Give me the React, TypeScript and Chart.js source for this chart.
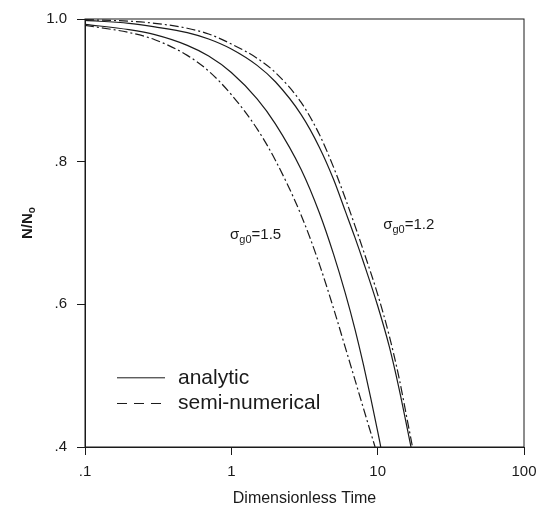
import React, { useEffect, useRef } from "react";
import { Chart, registerables } from "chart.js";

Chart.register(...registerables);

// Axis ticks
const X_TICKS = [0.1, 1, 10, 100];
const X_TICK_LABELS = [".1", "1", "10", "100"];
const Y_TICKS = [0.4, 0.6, 0.8, 1.0];
const Y_TICK_LABELS = [".4", ".6", ".8", "1.0"];

// sigma_g0 = 1.2, analytic
const T_A12 = [0.1, 0.2, 0.3, 0.5, 0.7, 1, 1.5, 2, 3, 4, 5, 6, 7, 8, 10, 12, 14, 16, 16.9];
const N_A12 = [0.998, 0.994, 0.989, 0.981, 0.972, 0.958, 0.935, 0.912, 0.866, 0.82, 0.775, 0.731, 0.6935, 0.659, 0.598, 0.541, 0.482, 0.424, 0.4];

// sigma_g0 = 1.2, semi-numerical
const T_S12 = [0.1, 0.2, 0.3, 0.5, 0.7, 1, 1.5, 2, 3, 4, 5, 6, 7, 8, 10, 12, 14, 16, 17.3];
const N_S12 = [0.999, 0.997, 0.994, 0.987, 0.979, 0.965, 0.945, 0.925, 0.883, 0.838, 0.792, 0.749, 0.71, 0.675, 0.614, 0.556, 0.497, 0.436, 0.4];

// sigma_g0 = 1.5, analytic
const T_A15 = [0.1, 0.2, 0.3, 0.5, 0.7, 1, 1.5, 2, 3, 4, 5, 6, 7, 8, 9, 10, 10.5];
const N_A15 = [0.9925, 0.985, 0.978, 0.963, 0.948, 0.925, 0.888, 0.853, 0.789, 0.728, 0.67, 0.616, 0.565, 0.515, 0.467, 0.422, 0.4];

// sigma_g0 = 1.5, semi-numerical
const T_S15 = [0.1, 0.2, 0.3, 0.5, 0.7, 1, 1.5, 2, 3, 4, 5, 6, 7, 8, 9, 9.6];
const N_S15 = [0.991, 0.981, 0.971, 0.949, 0.927, 0.894, 0.846, 0.802, 0.725, 0.656, 0.594, 0.54, 0.494, 0.454, 0.419, 0.4];

const LEGEND_LABELS = ["analytic", "semi-numerical"];
const X_TITLE = "Dimensionless Time";

const FONT = "'Liberation Sans', Arial, sans-serif";
const INK = "#1a1a1a";
const DASH_DOT = [9, 3, 2, 3];

function pts(t: number[], n: number[]) {
  return t.map((x, i) => ({ x, y: n[i] }));
}

function drawSigma(ctx: CanvasRenderingContext2D, x: number, y: number, value: string) {
  ctx.textBaseline = "middle";
  ctx.textAlign = "left";
  ctx.font = `15px ${FONT}`;
  ctx.fillText("σ", x, y);
  let cx = x + ctx.measureText("σ").width;
  ctx.font = `11px ${FONT}`;
  ctx.fillText("g0", cx, y + 5);
  cx += ctx.measureText("g0").width;
  ctx.font = `15px ${FONT}`;
  ctx.fillText("=" + value, cx, y);
}

const decorPlugin = {
  id: "decor",
  afterDraw(chart: any) {
    const { ctx, chartArea: ca, scales } = chart;
    const xs = scales.x;
    const ys = scales.y;
    ctx.save();
    // frame
    ctx.strokeStyle = INK;
    ctx.lineWidth = 1;
    ctx.strokeRect(ca.left, ca.top, ca.right - ca.left, ca.bottom - ca.top);

    ctx.fillStyle = INK;
    // sigma labels
    drawSigma(ctx, xs.getPixelForValue(0.98), ys.getPixelForValue(0.697), "1.5");
    drawSigma(ctx, xs.getPixelForValue(10.9), ys.getPixelForValue(0.711), "1.2");

    // legend
    const lx0 = ca.left + 32;
    const lx1 = ca.left + 80;
    const r1 = ys.getPixelForValue(0.497);
    const r2 = ys.getPixelForValue(0.461);
    ctx.lineWidth = 1;
    ctx.setLineDash([]);
    ctx.beginPath();
    ctx.moveTo(lx0, r1);
    ctx.lineTo(lx1, r1);
    ctx.stroke();
    ctx.setLineDash([10, 7]);
    ctx.beginPath();
    ctx.moveTo(lx0, r2);
    ctx.lineTo(lx1, r2);
    ctx.stroke();
    ctx.setLineDash([]);
    ctx.font = `21px ${FONT}`;
    ctx.textBaseline = "middle";
    ctx.textAlign = "left";
    ctx.fillText(LEGEND_LABELS[0], ca.left + 93, r1);
    ctx.fillText(LEGEND_LABELS[1], ca.left + 93, r2);

    // y title N/No
    ctx.save();
    ctx.translate(28, (ca.top + ca.bottom) / 2 - 10);
    ctx.rotate(-Math.PI / 2);
    ctx.font = `bold 15px ${FONT}`;
    const main = "N/N";
    const w1 = ctx.measureText(main).width;
    ctx.font = `bold 10px ${FONT}`;
    const w2 = ctx.measureText("o").width;
    const start = -(w1 + w2) / 2;
    ctx.textAlign = "left";
    ctx.textBaseline = "middle";
    ctx.font = `bold 15px ${FONT}`;
    ctx.fillText(main, start, 0);
    ctx.font = `bold 10px ${FONT}`;
    ctx.fillText("o", start + w1, 4);
    ctx.restore();

    ctx.restore();
  },
};

export default function App() {
  const ref = useRef<HTMLCanvasElement | null>(null);

  useEffect(() => {
    if (!ref.current) return;
    const mk = (label: string, data: any, dash: number[]) => ({
      label,
      data,
      borderColor: INK,
      borderWidth: 1.2,
      borderDash: dash,
      pointRadius: 0,
      fill: false,
      cubicInterpolationMode: "monotone" as const,
    });
    const chart = new Chart(ref.current, {
      type: "line",
      data: {
        datasets: [
          mk("analytic 1.2", pts(T_A12, N_A12), []),
          mk("semi-numerical 1.2", pts(T_S12, N_S12), DASH_DOT),
          mk("analytic 1.5", pts(T_A15, N_A15), []),
          mk("semi-numerical 1.5", pts(T_S15, N_S15), DASH_DOT),
        ],
      },
      options: {
        responsive: false,
        animation: false,
        layout: { padding: { top: 14.5, right: 25, left: 0, bottom: 0 } },
        plugins: {
          legend: { display: false },
          tooltip: { enabled: false },
        },
        scales: {
          x: {
            type: "logarithmic",
            min: 0.1,
            max: 100,
            afterBuildTicks: (s: any) => {
              s.ticks = X_TICKS.map((v) => ({ value: v }));
            },
            afterFit: (s: any) => {
              s.height = 68;
            },
            ticks: {
              autoSkip: false,
              maxRotation: 0,
              padding: 8,
              color: INK,
              font: { family: FONT, size: 15 },
              callback: (v: any) => {
                const i = X_TICKS.findIndex((t) => Math.abs(t - Number(v)) < 1e-9);
                return i >= 0 ? X_TICK_LABELS[i] : "";
              },
            },
            grid: {
              drawOnChartArea: false,
              drawTicks: true,
              tickLength: 8,
              color: INK,
            },
            border: { display: true, color: INK, width: 1 },
            title: {
              display: true,
              text: X_TITLE,
              color: INK,
              font: { family: FONT, size: 16 },
              padding: { top: 0, bottom: 7 },
            },
          },
          y: {
            type: "linear",
            min: 0.4,
            max: 1.0,
            afterBuildTicks: (s: any) => {
              s.ticks = Y_TICKS.map((v) => ({ value: v }));
            },
            afterFit: (s: any) => {
              s.width = 85;
            },
            ticks: {
              padding: 10,
              color: INK,
              font: { family: FONT, size: 15 },
              callback: (v: any) => {
                const i = Y_TICKS.findIndex((t) => Math.abs(t - Number(v)) < 1e-9);
                return i >= 0 ? Y_TICK_LABELS[i] : "";
              },
            },
            grid: {
              drawOnChartArea: false,
              drawTicks: true,
              tickLength: 8,
              color: INK,
            },
            border: { display: true, color: INK, width: 1 },
          },
        },
      },
      plugins: [decorPlugin],
    });
    return () => chart.destroy();
  }, []);

  return (
    <div style={{ position: "absolute", left: 0, top: 0, width: 549, height: 515, background: "#fff" }}>
      <canvas ref={ref} width={549} height={515} style={{ display: "block" }} />
    </div>
  );
}
